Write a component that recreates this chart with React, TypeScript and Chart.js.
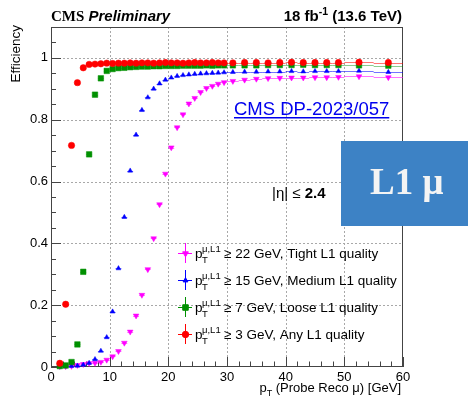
import React, { useEffect, useRef } from 'react';
import { Chart, registerables } from 'chart.js';
import { drawPoint } from 'chart.js/helpers';
Chart.register(...registerables);

// ---- data ----
const binCenters = [
  1.5, 2.5, 3.5, 4.5, 5.5, 6.5, 7.5, 8.5, 9.5, 10.5,
  11.5, 12.5, 13.5, 14.5, 15.5, 16.5, 17.5, 18.5, 19.5, 20.5,
  21.5, 22.5, 23.5, 24.5, 25.5, 26.5, 27.5, 28.5, 29.5,
  31, 33, 35, 37, 39, 41, 43, 45, 47, 49,
  52.5, 57.5,
];
const binHalfWidths = [
  0.5, 0.5, 0.5, 0.5, 0.5, 0.5, 0.5, 0.5, 0.5, 0.5,
  0.5, 0.5, 0.5, 0.5, 0.5, 0.5, 0.5, 0.5, 0.5, 0.5,
  0.5, 0.5, 0.5, 0.5, 0.5, 0.5, 0.5, 0.5, 0.5,
  1, 1, 1, 1, 1, 1, 1, 1, 1, 1,
  2.5, 2.5,
];
// pT >= 3 GeV, any quality
const effPt3 = [
  0.012, 0.203, 0.717, 0.920, 0.968, 0.979, 0.980, 0.981, 0.983, 0.982,
  0.983, 0.983, 0.984, 0.983, 0.984, 0.984, 0.983, 0.984, 0.985, 0.984,
  0.984, 0.983, 0.984, 0.985, 0.984, 0.984, 0.985, 0.984, 0.984,
  0.984, 0.985, 0.985, 0.984, 0.985, 0.986, 0.985, 0.985, 0.985, 0.985,
  0.986, 0.985,
];
// pT >= 7 GeV, loose quality
const effPt7 = [
  0.003, 0.005, 0.016, 0.073, 0.308, 0.688, 0.881, 0.934, 0.958, 0.964,
  0.967, 0.968, 0.970, 0.971, 0.972, 0.972, 0.973, 0.973, 0.974, 0.974,
  0.974, 0.975, 0.975, 0.975, 0.975, 0.976, 0.975, 0.976, 0.976,
  0.976, 0.976, 0.976, 0.977, 0.977, 0.977, 0.978, 0.977, 0.977, 0.977,
  0.976, 0.975,
];
// pT >= 15 GeV, medium quality
const effPt15 = [
  0.002, 0.002, 0.003, 0.004, 0.007, 0.013, 0.025, 0.052, 0.096, 0.179,
  0.319, 0.485, 0.635, 0.751, 0.831, 0.872, 0.900, 0.917, 0.929, 0.936,
  0.941, 0.944, 0.946, 0.948, 0.949, 0.950, 0.951, 0.952, 0.953,
  0.954, 0.955, 0.955, 0.956, 0.956, 0.957, 0.956, 0.957, 0.957, 0.957,
  0.958, 0.954,
];
// pT >= 22 GeV, tight quality
const effPt22 = [
  0.002, 0.002, 0.003, 0.006, 0.009, 0.012, 0.013, 0.016, 0.023, 0.034,
  0.051, 0.078, 0.114, 0.166, 0.233, 0.316, 0.416, 0.526, 0.625, 0.710,
  0.775, 0.817, 0.852, 0.870, 0.889, 0.902, 0.909, 0.916, 0.921,
  0.925, 0.929, 0.932, 0.934, 0.935, 0.936, 0.936, 0.937, 0.937, 0.938,
  0.940, 0.937,
];
const xTickLabels = ['0', '10', '20', '30', '40', '50', '60'];
const yTickLabels = ['0', '0.2', '0.4', '0.6', '0.8', '1'];
const legendLabels = [
  '\u2265 22 GeV, Tight L1 quality',
  '\u2265 15 GeV, Medium L1 quality',
  '\u2265 7 GeV, Loose L1 quality',
  '\u2265 3 GeV, Any L1 quality',
];

// ---- styles ----
const SANS = '"Liberation Sans", Arial, sans-serif';
const SERIF = '"Liberation Serif", "Times New Roman", serif';
const series = [
  { label: legendLabels[3], data: effPt3, color: '#ff0000', bar: 'rgba(255,0,0,0.55)', style: 'circle', radius: 3.2, rotation: 0 },
  { label: legendLabels[2], data: effPt7, color: '#009000', bar: 'rgba(0,144,0,0.45)', style: 'rect', radius: 3.9, rotation: 0 },
  { label: legendLabels[1], data: effPt15, color: '#0000ff', bar: 'rgba(0,0,255,0.55)', style: 'triangle', radius: 2.8, rotation: 0 },
  { label: legendLabels[0], data: effPt22, color: '#ff00ff', bar: 'rgba(255,0,255,0.55)', style: 'triangle', radius: 3.3, rotation: 180 },
];

type Run = { t: string; font: string; dy?: number };
function runsWidth(ctx: CanvasRenderingContext2D, runs: Run[]) {
  let w = 0;
  for (const r of runs) { ctx.font = r.font; w += ctx.measureText(r.t).width; }
  return w;
}
function drawRuns(ctx: CanvasRenderingContext2D, runs: Run[], x: number, y: number, align: 'left' | 'right') {
  let cx = align === 'right' ? x - runsWidth(ctx, runs) : x;
  ctx.textAlign = 'left';
  ctx.textBaseline = 'alphabetic';
  for (const r of runs) {
    ctx.font = r.font;
    ctx.fillText(r.t, cx, y + (r.dy || 0));
    cx += ctx.measureText(r.t).width;
  }
}

const framePlugin = {
  id: 'frameGrid',
  beforeDatasetsDraw(chart: any) {
    const { ctx, chartArea: a } = chart;
    const xs = chart.scales.x, ys = chart.scales.y;
    ctx.save();
    // grid
    ctx.strokeStyle = '#a8a8a8';
    ctx.lineWidth = 1;
    ctx.setLineDash([2, 2]);
    for (let v = 10; v <= 50; v += 10) {
      const px = Math.round(xs.getPixelForValue(v)) + 0.5;
      ctx.beginPath(); ctx.moveTo(px, a.top); ctx.lineTo(px, a.bottom); ctx.stroke();
    }
    for (let k = 1; k <= 5; k++) {
      const py = Math.round(ys.getPixelForValue(k * 0.2)) + 0.5;
      ctx.beginPath(); ctx.moveTo(a.left, py); ctx.lineTo(a.right, py); ctx.stroke();
    }
    ctx.setLineDash([]);
    // frame
    ctx.strokeStyle = '#444';
    ctx.strokeRect(a.left + 0.5, a.top + 0.5, a.right - a.left - 1, a.bottom - a.top - 1);
    // ticks (inward)
    ctx.beginPath();
    for (let k = 0; k <= 30; k++) {
      const v = k * 2;
      const px = Math.round(xs.getPixelForValue(v)) + 0.5;
      const len = v % 10 === 0 ? 10 : 5.5;
      ctx.moveTo(px, a.bottom); ctx.lineTo(px, a.bottom - len);
    }
    for (let k = 0; k <= 22; k++) {
      const v = k * 0.05;
      const py = Math.round(ys.getPixelForValue(v)) + 0.5;
      const len = k % 4 === 0 ? 10 : 5;
      ctx.moveTo(a.left, py); ctx.lineTo(a.left + len, py);
    }
    ctx.stroke();
    // horizontal (bin-width) error bars
    chart.data.datasets.forEach((ds: any, di: number) => {
      ctx.strokeStyle = series[di].bar;
      ctx.beginPath();
      ds.data.forEach((p: any, i: number) => {
        const y = Math.round(ys.getPixelForValue(p.y)) + 0.5;
        ctx.moveTo(xs.getPixelForValue(p.x - binHalfWidths[i]), y);
        ctx.lineTo(xs.getPixelForValue(p.x + binHalfWidths[i]), y);
      });
      ctx.stroke();
    });
    ctx.restore();
  },
};

const annotPlugin = {
  id: 'annot',
  afterDraw(chart: any) {
    const { ctx, chartArea: a } = chart;
    ctx.save();
    ctx.fillStyle = '#000';
    // header
    drawRuns(ctx, [
      { t: 'CMS', font: `bold 15px ${SERIF}` },
      { t: ' Preliminary', font: `italic bold 15px ${SANS}` },
    ], a.left, 21, 'left');
    drawRuns(ctx, [
      { t: '18 fb', font: `bold 15px ${SANS}` },
      { t: '-1', font: `bold 10.5px ${SANS}`, dy: -6 },
      { t: ' (13.6 TeV)', font: `bold 15px ${SANS}` },
    ], a.right - 1, 21, 'right');
    // y title
    ctx.save();
    ctx.translate(16, a.top - 2);
    ctx.rotate(-Math.PI / 2);
    ctx.font = `13.5px ${SANS}`;
    ctx.textAlign = 'right';
    ctx.textBaseline = 'middle';
    ctx.fillText('Efficiency', 0, 0);
    ctx.restore();
    // x title
    drawRuns(ctx, [
      { t: 'p', font: `13px ${SANS}` },
      { t: 'T', font: `9px ${SANS}`, dy: 4 },
      { t: ' (Probe Reco \u03bc) [GeV]', font: `13px ${SANS}` },
    ], a.right - 2, 392, 'right');
    // DP link
    ctx.fillStyle = '#0000ee';
    ctx.font = `18.5px ${SANS}`;
    ctx.textAlign = 'left';
    ctx.textBaseline = 'alphabetic';
    const dp = 'CMS DP-2023/057';
    ctx.fillText(dp, 234, 115);
    const dpw = ctx.measureText(dp).width;
    ctx.fillRect(234, 117, dpw, 1.5);
    // eta text
    ctx.fillStyle = '#000';
    drawRuns(ctx, [
      { t: '|\u03b7| \u2264 ', font: `15px ${SANS}` },
      { t: '2.4', font: `bold 15px ${SANS}` },
    ], 272, 198, 'left');
    // legend
    for (let i = 0; i < 4; i++) {
      const s = series[3 - i];
      const cy = 253 + i * 27;
      const mx = 185;
      ctx.strokeStyle = s.color;
      ctx.lineWidth = 1;
      ctx.beginPath();
      ctx.moveTo(mx + 0.5, cy - 10); ctx.lineTo(mx + 0.5, cy + 10);
      ctx.moveTo(mx - 7, cy + 0.5); ctx.lineTo(mx + 7, cy + 0.5);
      ctx.stroke();
      ctx.fillStyle = s.color;
      drawPoint(ctx, { pointStyle: s.style, rotation: s.rotation, radius: s.radius, borderWidth: 1 } as any, mx + 0.5, cy + 0.5);
      ctx.fillStyle = '#000';
      ctx.font = `13.5px ${SANS}`;
      ctx.textAlign = 'left';
      ctx.textBaseline = 'alphabetic';
      ctx.fillText('p', 195, cy + 5);
      ctx.font = `9.5px ${SANS}`;
      ctx.fillText('\u03bc,L1', 202, cy - 1);
      ctx.fillText('T', 202, cy + 10);
      ctx.font = `13.5px ${SANS}`;
      ctx.fillText(legendLabels[i], 224, cy + 5);
    }
    // L1 mu box
    ctx.fillStyle = '#3d82c5';
    ctx.fillRect(341, 141, 127, 85);
    ctx.fillStyle = '#f4f4f4';
    ctx.font = `bold 37px ${SERIF}`;
    ctx.textAlign = 'left';
    ctx.textBaseline = 'alphabetic';
    ctx.fillText('L1 \u03bc', 370, 194);
    ctx.restore();
  },
};

export default function App() {
  const ref = useRef<HTMLCanvasElement>(null);
  useEffect(() => {
    document.body.style.margin = '0';
    const canvas = ref.current!;
    const chart = new Chart(canvas, {
      type: 'scatter',
      data: {
        datasets: series.map((s) => ({
          label: s.label,
          data: binCenters.map((x, i) => ({ x, y: s.data[i] })),
          pointStyle: s.style as any,
          pointRotation: s.rotation,
          pointRadius: s.radius,
          pointBackgroundColor: s.color,
          pointBorderColor: s.color,
          pointBorderWidth: 0.5,
          showLine: false,
          clip: false as any,
        })),
      },
      plugins: [framePlugin, annotPlugin],
      options: {
        animation: false,
        responsive: false,
        devicePixelRatio: 1,
        events: [],
        layout: { padding: { left: 0, right: 65, top: 27, bottom: 0 } },
        plugins: { legend: { display: false }, tooltip: { enabled: false } },
        scales: {
          x: {
            type: 'linear',
            min: 0,
            max: 60,
            grid: { display: false, drawTicks: false },
            border: { display: false },
            ticks: {
              stepSize: 10,
              autoSkip: false,
              maxRotation: 0,
              padding: 3,
              color: '#000',
              font: { family: SANS, size: 13 },
              callback: (v: any) => {
                const i = Math.round(v / 10);
                return Math.abs(v - i * 10) < 1e-6 ? xTickLabels[i] : null;
              },
            },
            afterFit: (s: any) => { s.height = 32; },
          },
          y: {
            type: 'linear',
            min: 0,
            max: 1.1,
            grid: { display: false, drawTicks: false },
            border: { display: false },
            ticks: {
              stepSize: 0.2,
              autoSkip: false,
              padding: 3,
              color: '#000',
              font: { family: SANS, size: 13 },
              callback: (v: any) => {
                const i = Math.round(v / 0.2);
                return Math.abs(v - i * 0.2) < 1e-6 && i < yTickLabels.length ? yTickLabels[i] : null;
              },
            },
            afterFit: (s: any) => { s.width = 51; },
          },
        },
      },
    });
    return () => chart.destroy();
  }, []);
  return (
    <div style={{ position: 'absolute', left: 0, top: 0, width: 468, height: 399 }}>
      <canvas ref={ref} width={468} height={399} style={{ width: 468, height: 399 }} />
    </div>
  );
}
